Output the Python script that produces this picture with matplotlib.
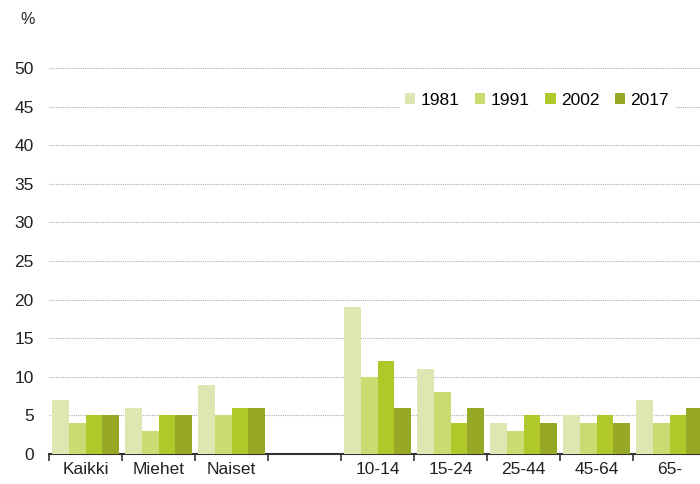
import numpy as np
import matplotlib
matplotlib.use("Agg")
import matplotlib.pyplot as plt

plt.rcParams["font.family"] = ["Liberation Sans", "DejaVu Sans"]

categories = ["Kaikki", "Miehet", "Naiset", "", "10-14", "15-24", "25-44", "45-64", "65-"]
years = ["1981", "1991", "2002", "2017"]
v1981 = [7, 6, 9, None, 19, 11, 4, 5, 7]
v1991 = [4, 3, 5, None, 10, 8, 3, 4, 4]
v2002 = [5, 5, 6, None, 12, 4, 5, 5, 5]
v2017 = [5, 5, 6, None, 6, 6, 4, 4, 6]
colors = ["#dde7b1", "#c9dc72", "#b1c82b", "#97a826"]

fig = plt.figure(figsize=(7, 4.84), dpi=100)
ax = fig.add_axes([49 / 700, 30 / 484, 657 / 700, 386 / 484])

x = np.arange(len(categories))
w = 0.23
for i, (vals, yr, c) in enumerate(zip([v1981, v1991, v2002, v2017], years, colors)):
    h = [np.nan if v is None else v for v in vals]
    ax.bar(x + (i - 1.5) * w, h, width=w, color=c, label=yr, zorder=3)

ax.set_xlim(-0.5, len(categories) - 0.5)
ax.set_ylim(0, 50)
ax.set_yticks(range(0, 51, 5))
ax.yaxis.grid(True, color="#b0b0b0", ls=(0, (1, 1)), lw=0.8, zorder=0)
ax.set_xticks(np.arange(-0.5, len(categories), 1.0))
ax.set_xticks(x, minor=True)
ax.set_xticklabels([])
ax.set_xticklabels(categories, minor=True)
ax.tick_params(axis="x", which="major", length=5, direction="out", color="#333333", width=1.2)
ax.tick_params(axis="x", which="minor", length=0, pad=6, labelsize=12.5, labelcolor="#222222")
ax.tick_params(axis="y", length=0, pad=11, labelsize=12.5, labelcolor="#222222")
for s in ["top", "right", "left"]:
    ax.spines[s].set_visible(False)
ax.spines["bottom"].set_color("#333333")
ax.spines["bottom"].set_linewidth(1.5)

fig.text(20 / 700, 1 - 20 / 484, "%", fontsize=11.5, color="#222222", va="center")

leg = ax.legend(loc="center right", bbox_to_anchor=(0.965, 0.917), ncol=4, frameon=True,
                fontsize=12.5, handlelength=0.6, handleheight=0.6, handletextpad=0.3,
                columnspacing=0.9, borderpad=0.3, fancybox=False)
leg.get_frame().set_edgecolor("white")
leg.get_frame().set_facecolor("white")
leg.get_frame().set_alpha(1)

fig.savefig("out.png", dpi=100)
